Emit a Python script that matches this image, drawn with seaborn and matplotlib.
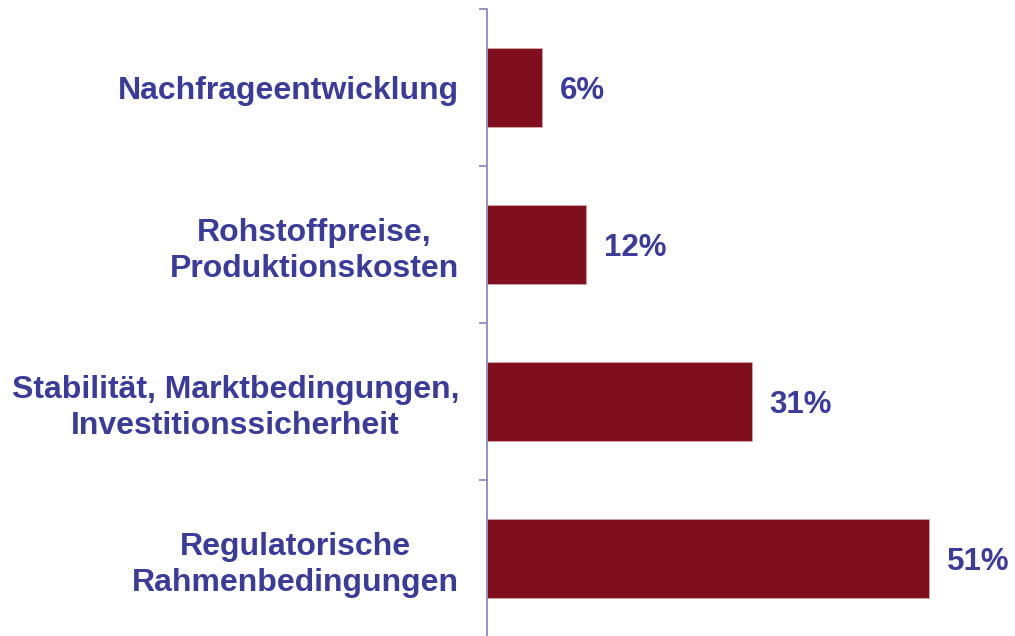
import matplotlib
matplotlib.use("Agg")
import matplotlib.pyplot as plt
import seaborn as sns
import pandas as pd
from matplotlib.ticker import FixedLocator

categories = [
    "Nachfrageentwicklung",
    "Rohstoffpreise,\nProduktionskosten",
    "Stabilität, Marktbedingungen,\nInvestitionssicherheit",
    "Regulatorische\nRahmenbedingungen",
]
values = [6.4, 11.5, 30.7, 51.2]
value_labels = ["6%", "12%", "31%", "51%"]

BAR = "#800F1E"
TEXT = "#3B3B9C"
AXIS = "#8C8CC0"

sns.set_style("white")
plt.rcParams["font.family"] = ["Liberation Sans", "DejaVu Sans"]

df = pd.DataFrame({"cat": categories, "val": values})

fig = plt.figure(figsize=(10.15, 6.36), dpi=100)
W, H = 1015, 636
left_px, top_px, bottom_px = 487, 9, 637
ax = fig.add_axes([left_px / W, 1 - bottom_px / H, (W - left_px) / W, (bottom_px - top_px) / H])

sns.barplot(data=df, x="val", y="cat", orient="h", color=BAR, width=0.5,
            saturation=1, edgecolor="#D8A8AE", linewidth=0.6, ax=ax)

ax.set_xlim(0, (W - left_px) / 8.64)
ax.set_ylim(3.5, -0.5)
ax.set_xlabel("")
ax.set_ylabel("")
ax.set_xticks([])

for s in ["top", "right", "bottom"]:
    ax.spines[s].set_visible(False)
ax.spines["left"].set_color(AXIS)
ax.spines["left"].set_linewidth(1.3)

ax.tick_params(axis="y", which="major", left=True, length=0, pad=20,
               labelcolor=TEXT, labelsize=23)
ax.yaxis.set_minor_locator(FixedLocator([-0.5, 0.5, 1.5, 2.5, 3.5]))
ax.tick_params(axis="y", which="minor", left=True, length=6, width=1.3,
               color=AXIS, direction="out")
for lbl in ax.get_yticklabels():
    lbl.set_fontweight("bold")
    lbl.set_multialignment("center")
    lbl.set_linespacing(1.28)

for i, (v, t) in enumerate(zip(values, value_labels)):
    ax.annotate(t, xy=(v, i), xytext=(12.5, -2.5), textcoords="offset points",
                ha="left", va="center", fontsize=22.5, fontweight="bold",
                color=TEXT, annotation_clip=False)

fig.savefig("out.png", dpi=100, facecolor="white")
